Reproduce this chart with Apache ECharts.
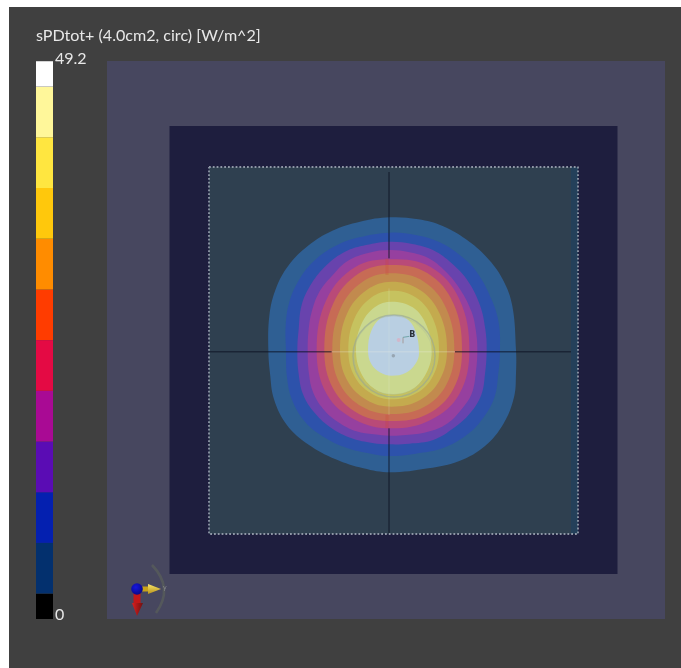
<!DOCTYPE html>
<html><head><meta charset="utf-8">
<style>html,body{margin:0;padding:0;background:#fff}#c{position:absolute;left:0;top:0;width:681px;height:668px;filter:blur(0.6px)}</style>
<script src="https://cdn.jsdelivr.net/npm/echarts@6/dist/echarts.min.js"></script>
</head><body><div id="c"></div>
<script>
const titleText = 'sPDtot+ (4.0cm2, circ) [W/m^2]';
const scaleMin = 0, scaleMax = 49.2;
const bandHeights = [2.24,4.47,4.47,4.47,4.47,4.47,4.47,4.47,4.47,4.47,4.47,2.24];
const bandColors = ['#000000','#03306e','#0420b0','#5a0cb4','#a90a94','#e40a44','#ff3c00','#ff8c00','#ffc80c','#ffe640','#fff79a','#ffffff'];

// scene regions, [x0,y0,x1,y1] in scene units
const phantomOuter = [-429,-417,1245,1257];
const phantomMiddle = [-241.5,-222,1102.5,1122];
const phantomInner = [-123,-99,984,1002];
const phantomStrip = [963,-99,984,1002];

const contourNavy = [[420,52],[505,58],[578,78],[648,118],[710,172],[758,238],[787,318],[798,450],[798,520],[792,592],[760,672],[705,738],[628,783],[535,805],[420,817],[340,805],[257,778],[176,734],[110,674],[72,598],[60,520],[55,450],[58,348],[77,268],[116,196],[176,136],[247,92],[330,65]];
const contourBlue = [[420,98],[497,105],[569,127],[630,166],[680,216],[724,297],[746,368],[750,450],[745,520],[733,593],[695,660],[650,705],[579,744],[497,761],[420,768],[363,761],[291,744],[220,710],[165,665],[126,599],[111,532],[108,450],[107,378],[118,306],[150,235],[195,180],[256,138],[328,112]];
const contourViolet = [[420,125],[487,132],[550,151],[605,190],[655,245],[690,316],[706,388],[710,450],[705,522],[694,584],[660,640],[610,685],[550,720],[478,731],[420,733],[367,729],[305,715],[245,685],[195,640],[160,585],[146,522],[142,450],[146,388],[155,315],[185,250],[230,195],[285,155],[348,135]];
const contourMagenta = [[420,150],[478,157],[536,175],[586,214],[631,269],[665,336],[677,388],[682,450],[677,522],[665,581],[636,626],[591,671],[531,696],[468,705],[420,707],[372,703],[319,694],[264,666],[219,626],[189,576],[177,522],[173,450],[176,388],[185,336],[209,274],[249,224],[294,182],[357,158]];
const contourCrimson = [[425,178],[543,202],[628,298],[658,450],[628,582],[543,659],[425,685],[315,659],[230,582],[200,450],[230,298],[315,202]];
const contourRed = [[425,195],[533,220],[610,310],[636,450],[610,567],[533,642],[425,663],[327,642],[250,567],[223,450],[250,310],[327,220]];
const contourOrange = [[425,220],[522,245],[589,326],[613,450],[589,554],[522,621],[425,642],[338,621],[271,554],[247,450],[271,326],[338,245]];
const contourGold = [[425,245],[510,270],[569,341],[591,450],[569,540],[510,600],[425,620],[350,600],[291,540],[270,450],[291,341],[350,270]];
const contourYellow = [[425,272],[499,293],[549,356],[567,450],[549,528],[499,580],[425,598],[363,580],[313,528],[295,450],[313,356],[363,293]];
const contourPale = [[425,305],[488,322],[529,375],[545,455],[529,519],[488,567],[425,583],[374,567],[333,519],[318,450],[333,375],[374,322]];
const contourWhite = [[425,345],[468,355],[496,392],[507,460],[496,492],[468,518],[425,527],[392,518],[364,492],[354,450],[364,392],[392,355]];
const contourList = [contourNavy,contourBlue,contourViolet,contourMagenta,contourCrimson,contourRed,contourOrange,contourGold,contourYellow,contourPale,contourWhite];
const contourColors = ['#2f5f93','#2d52ab','#6843ad','#96409f','#b94a78','#c76b55','#c28a4e','#c4aa4e','#c6c25f','#cad88f','#b9cfe2'];

const crossVTop = [[417,-84],[417,175]];
const crossVLow = [[417,685],[417,1002]];
const crossHLeft = [[-123,455.5],[245,455.5]];
const crossHRight = [[615,455.5],[963,455.5]];
const crossVInner = [[417,265],[417,645]];
const crossHInner = [[245,455.5],[615,455.5]];
const stripeTop = [[411,175],[411,225]];
const stripeLow = [[411,645],[411,685]];
const dotBorder = [[-123,-99],[984,-99],[984,1002],[-123,1002],[-123,-99]];
const ringA = [432,468,123];
const ringB = [430,466,118];
const centerDot = [430,467];
const beamPoint = [[446,420]];
const beamTick = [[459,412],[459,430]];
const beamLeader = [[459,412],[478,409]];
const beamLabel = [[487,405,'B']];

function regionSeries(name, rect, color, z){
  return {name, type:'custom', coordinateSystem:'cartesian2d', xAxisIndex:0, yAxisIndex:0, silent:true, z,
    data:[rect],
    renderItem(p, api){
      const a = api.coord([api.value(0),api.value(1)]), b = api.coord([api.value(2),api.value(3)]);
      return {type:'rect', shape:{x:a[0],y:a[1],width:b[0]-a[0],height:b[1]-a[1]}, style:{fill:color}};
    }};
}
function contourSeries(points, color, z){
  return {type:'custom', coordinateSystem:'cartesian2d', xAxisIndex:0, yAxisIndex:0, silent:true, z,
    data:points,
    renderItem(p, api){
      if(p.dataIndex!==0) return null;
      const pts = points.map(q=>api.coord(q));
      return {type:'polygon', shape:{points:pts, smooth:0.38, smoothConstraint:false}, style:{fill:color}};
    }};
}
function ringSeries(ring, color, w, z){
  return {type:'custom', coordinateSystem:'cartesian2d', xAxisIndex:0, yAxisIndex:0, silent:true, z,
    data:[ring],
    renderItem(p, api){
      const c = api.coord([api.value(0),api.value(1)]);
      const r = api.size([api.value(2),0])[0];
      return {type:'circle', shape:{cx:c[0],cy:c[1],r}, style:{fill:'none',stroke:color,lineWidth:w}};
    }};
}
function lineSeries(pts, color, width, z, type){
  return {type:'line', xAxisIndex:0, yAxisIndex:0, data:pts, symbol:'none', silent:true, z,
    lineStyle:{color, width, type:type||'solid', opacity:1}};
}

const series = [
  regionSeries('outer', phantomOuter, '#47475f', 1),
  regionSeries('middle', phantomMiddle, '#1e1e3e', 2),
  regionSeries('inner', phantomInner, '#2f4050', 3),
  regionSeries('strip', phantomStrip, '#24405a', 4),
];
contourList.forEach((c,i)=>series.push(contourSeries(c, contourColors[i], 5+i)));
const darkLine = 'rgba(12,16,34,0.85)';
[crossVTop,crossVLow,crossHLeft,crossHRight].forEach(s=>series.push(lineSeries(s,darkLine,1,20)));
series.push(lineSeries(crossVInner,'rgba(235,238,225,0.2)',1,21));
series.push(lineSeries(crossHInner,'rgba(235,238,225,0.35)',1,21));
series.push(lineSeries(stripeTop,'rgba(205,70,50,0.22)',3,19));
series.push(lineSeries(stripeLow,'rgba(205,70,50,0.22)',3,19));
series.push(lineSeries(dotBorder,'#8f97a6',1.8,22,[1.8,2]));
series.push(ringSeries(ringA,'rgba(150,165,150,0.6)',1.5,23));
series.push(ringSeries(ringB,'rgba(170,185,150,0.3)',1.2,23));
series.push({type:'scatter', xAxisIndex:0, yAxisIndex:0, data:[centerDot], symbolSize:3.5, itemStyle:{color:'#8e9ba6'}, silent:true, z:24});
series.push({type:'scatter', xAxisIndex:0, yAxisIndex:0, data:beamPoint, symbolSize:4, itemStyle:{color:'#d8b0c4'}, silent:true, z:24});
series.push(lineSeries(beamTick,'#a59a9a',1,24));
series.push(lineSeries(beamLeader,'#5f9a9a',0.8,24));
series.push({type:'scatter', xAxisIndex:0, yAxisIndex:0, data:beamLabel, symbolSize:0, silent:true, z:25,
  label:{show:true, position:'inside', formatter:p=>p.value[2], color:'#05080f', fontFamily:'DejaVu Sans', fontWeight:'bold', fontSize:8}});

bandHeights.forEach((h,i)=>series.push({type:'bar', xAxisIndex:1, yAxisIndex:1, stack:'scale', data:[h], barWidth:'100%', silent:true, z:30,
  itemStyle:{color:bandColors[i]}}));

const option = {
  animation:false,
  backgroundColor:'#ffffff',
  title:{text:titleText, left:36, top:28, padding:0, textStyle:{color:'#e8e8e8', fontFamily:'Lato', fontWeight:'normal', fontSize:16.1}},
  grid:[
    {left:107, top:61, width:558, height:558, show:false},
    {left:36, top:61, width:17, height:558, show:false}
  ],
  xAxis:[
    {type:'value', gridIndex:0, min:-429, max:1245, show:false},
    {type:'category', gridIndex:1, data:['scale'], show:false}
  ],
  yAxis:[
    {type:'value', gridIndex:0, min:-417, max:1257, inverse:true, show:false},
    {type:'value', gridIndex:1, min:scaleMin, max:scaleMax, position:'right',
      axisLine:{show:false}, axisTick:{show:false}, splitLine:{show:false},
      axisLabel:{show:true, margin:2, color:'#e8e8e8', fontFamily:'Lato', fontSize:16,
        customValues:[scaleMin,scaleMax], formatter:v=>v===scaleMax?'{top|'+v+'}':'{low|'+v+'}',
        verticalAlignMinLabel:'bottom', verticalAlignMaxLabel:'bottom',
        rich:{top:{lineHeight:4,fontSize:16,fontFamily:'Lato',color:'#e8e8e8'},low:{lineHeight:8,fontSize:16,fontFamily:'Lato',color:'#e8e8e8'}}}}
  ],
  graphic:[
    {type:'rect', z:-1, shape:{x:9,y:7,width:672,height:661}, style:{fill:'#404040'}},
    {type:'bezierCurve', z:50, shape:{x1:152,y1:565,x2:156,y2:613,cpx1:174,cpy1:588}, style:{fill:'none',stroke:'rgba(90,95,90,0.7)',lineWidth:2.6}},
    {type:'rect', z:51, shape:{x:140,y:586.5,width:9,height:5}, style:{fill:'#c8a218'}},
    {type:'polygon', z:51, shape:{points:[[148,584],[161,589],[148,594]]}, style:{fill:new echarts.graphic.LinearGradient(0,0,0,1,[{offset:0,color:'#f8e468'},{offset:1,color:'#b8941c'}])}},
    {type:'rect', z:51, shape:{x:133.5,y:593,width:7,height:10}, style:{fill:'#c41818'}},
    {type:'polygon', z:51, shape:{points:[[132,603],[143,603],[137,616]]}, style:{fill:new echarts.graphic.LinearGradient(0,0,1,0,[{offset:0,color:'#dc2020'},{offset:1,color:'#701010'}])}},
    {type:'circle', z:52, shape:{cx:137,cy:589,r:5.8}, style:{fill:new echarts.graphic.RadialGradient(0.4,0.35,0.7,[{offset:0,color:'#1616e0'},{offset:1,color:'#080880'}])}},
    {type:'text', z:52, style:{x:163,y:584,text:'y',fill:'#8a8a90',fontSize:7,fontFamily:'Lato'}}
  ],
  series
};
const chart = echarts.init(document.getElementById('c'), null, {renderer:'canvas', width:681, height:668});
chart.setOption(option);
</script></body></html>
